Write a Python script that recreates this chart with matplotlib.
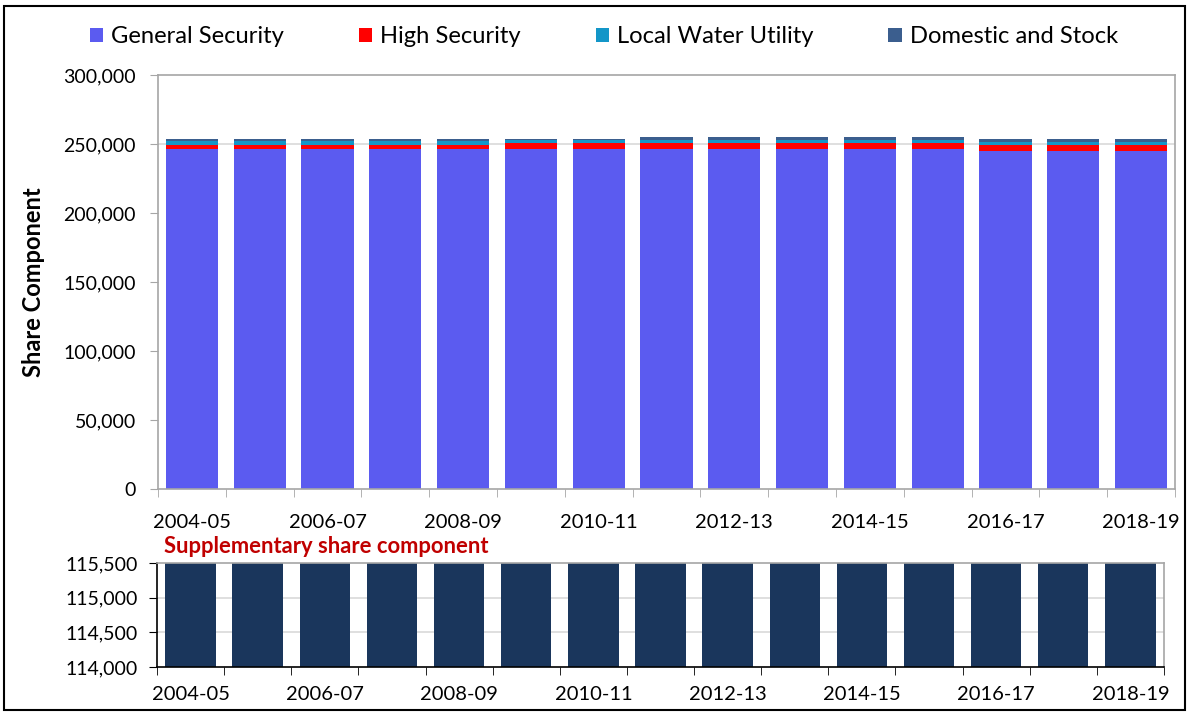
import numpy as np
import matplotlib.pyplot as plt
from matplotlib.ticker import FuncFormatter, FixedLocator
from matplotlib.patches import Rectangle

plt.rcParams['font.family'] = ['Lato', 'DejaVu Sans']

years = ['2004-05', '2005-06', '2006-07', '2007-08', '2008-09', '2009-10', '2010-11',
         '2011-12', '2012-13', '2013-14', '2014-15', '2015-16', '2016-17', '2017-18', '2018-19']
general = [246500, 246500, 246500, 246500, 246500, 246500, 246500, 246500,
           246500, 246500, 246500, 246500, 245200, 245200, 245200]
high = [3000, 3000, 3000, 3000, 3000, 4300, 4300, 4300, 4300, 4300, 4300, 4300, 4300, 4300, 4300]
lwu = [3000, 3000, 3000, 3000, 3000, 2000, 2000, 2200, 2200, 2200, 2200, 2200, 2000, 2000, 2000]
dns = [800, 800, 800, 800, 800, 800, 800, 2300, 2300, 2300, 2300, 2300, 2300, 2300, 2300]
supp = [116000] * 15

c_gen = '#5B5BF0'
c_high = '#FF0000'
c_lwu = '#1396C8'
c_dns = '#3B5E8E'
c_supp = '#1A365C'

x = np.arange(len(years))
fmt = FuncFormatter(lambda v, p: '{:,.0f}'.format(v))

fig = plt.figure(figsize=(11.89, 7.13), dpi=100)

# main stacked chart
ax = fig.add_axes([0.1329, 0.3142, 0.8553, 0.5806])
b1 = np.array(general)
b2 = b1 + np.array(high)
b3 = b2 + np.array(lwu)
ax.axhline(250000, color='#D9D9D9', lw=1.2, zorder=0)
ax.bar(x, general, width=0.77, color=c_gen, label='General Security', zorder=2)
ax.bar(x, high, width=0.77, bottom=b1, color=c_high, label='High Security', zorder=2)
ax.bar(x, lwu, width=0.77, bottom=b2, color=c_lwu, label='Local Water Utility', zorder=2)
ax.bar(x, dns, width=0.77, bottom=b3, color=c_dns, label='Domestic and Stock', zorder=2)
ax.set_xlim(-0.5, 14.5)
ax.set_ylim(0, 300000)
ax.set_yticks(np.arange(0, 300001, 50000))
ax.yaxis.set_major_formatter(fmt)
ax.set_xticks(x[::2])
ax.set_xticklabels(years[::2])
ax.xaxis.set_minor_locator(FixedLocator(np.arange(-0.5, 15, 1)))
ax.tick_params(axis='x', which='major', length=0, pad=18, labelsize=14.5)
ax.tick_params(axis='x', which='minor', length=6, color='#A6A6A6')
ax.tick_params(axis='y', length=6, color='#A6A6A6', labelsize=14, pad=10)
for s in ax.spines.values():
    s.set_color('#A6A6A6')
    s.set_linewidth(1.2)
ax.set_ylabel('Share Component', fontsize=17, fontweight='bold', labelpad=13)
ax.legend(loc='lower left', bbox_to_anchor=(-0.088, 1.015), ncol=4, frameon=False,
          fontsize=17.1, handlelength=0.55, handleheight=0.55, handletextpad=0.35,
          columnspacing=3.15)

# supplementary chart
ax2 = fig.add_axes([0.132, 0.0645, 0.847, 0.1459])
ax2.set_ylim(114000, 115500)
ax2.set_xlim(-0.5, 14.5)
for v in [114500, 115000]:
    ax2.axhline(v, color='#D9D9D9', lw=1.2, zorder=0)
ax2.bar(x, supp, width=0.75, color=c_supp, zorder=2)
ax2.set_yticks(np.arange(114000, 115501, 500))
ax2.yaxis.set_major_formatter(fmt)
ax2.set_xticks(x[::2])
ax2.set_xticklabels(years[::2])
ax2.xaxis.set_minor_locator(FixedLocator(np.arange(-0.5, 15, 1)))
ax2.tick_params(axis='x', which='major', length=0, pad=14, labelsize=14.5)
ax2.tick_params(axis='x', which='minor', length=6, color='black')
ax2.tick_params(axis='y', length=6, color='black', labelsize=14, pad=8)
ax2.spines['top'].set_color('#A6A6A6')
ax2.spines['right'].set_color('#A6A6A6')
ax2.spines['left'].set_color('black')
ax2.spines['bottom'].set_color('black')
for s in ax2.spines.values():
    s.set_linewidth(1.2)
ax2.text(0.007, 1.06, 'Supplementary share component', transform=ax2.transAxes,
         color='#C00000', fontsize=15.8, fontweight='bold', va='bottom', ha='left')

# outer frame
fig.patches.append(Rectangle((0.003, 0.004), 0.994, 0.988, transform=fig.transFigure,
                             fill=False, edgecolor='black', lw=1.5))

fig.savefig('out.png', dpi=100)
